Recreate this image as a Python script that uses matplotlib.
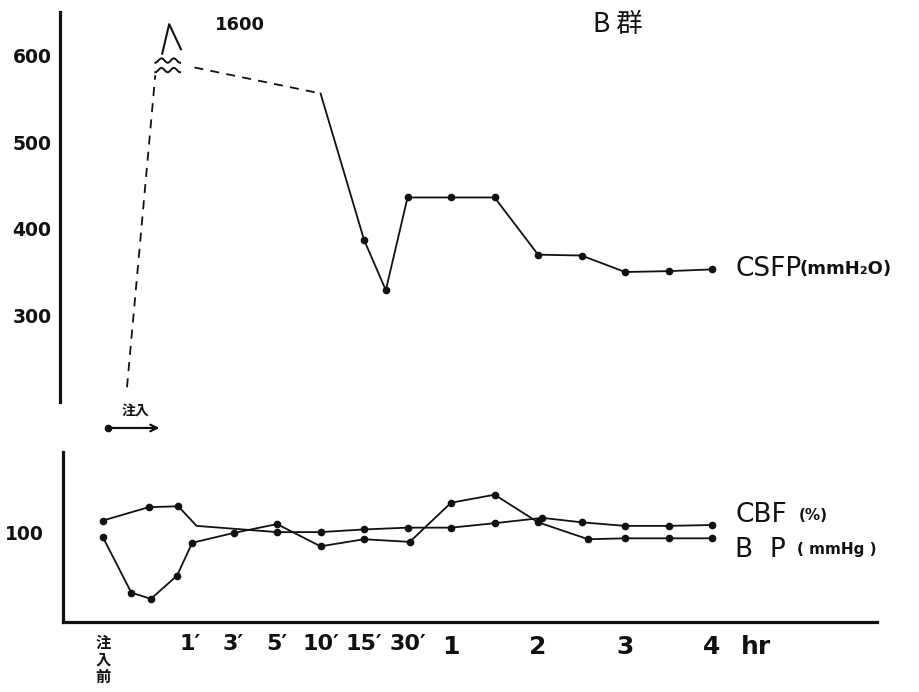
import numpy as np
import matplotlib
matplotlib.use("Agg")
import matplotlib.pyplot as plt

plt.rcParams["font.family"] = ["DejaVu Sans", "Noto Sans CJK JP"]
CJK = ["Noto Sans CJK JP", "DejaVu Sans"]
INK = "#111111"

# time axis: 0 = before injection, then 1', 3', 5', 10', 15', 30', 1..4 hr
tick_pos = [0, 2, 3, 4, 5, 6, 7, 8, 10, 12, 14, 15]
tick_labels = ["注\n入\n前", "1′", "3′", "5′", "10′", "15′", "30′", "1", "2", "3", "4", "hr"]

# CSFP (mmH2O): rise during injection (peak off scale at 1600)
csfp_peak = 1600
csfp_inj_x = [0.55, 1.2]
csfp_inj = [217, 577]
csfp_x = [2.1, 5, 6, 6.5, 7, 8, 9, 10, 11, 12, 13, 14]
csfp = [586, 556, 387, 329, 436, 436, 436, 370, 369, 350, 351, 353]

# CBF (%)
cbf_x = [0, 1.05, 1.73, 2.15, 4, 5, 6, 7, 8, 9, 10.1, 11, 12, 13, 14]
cbf = [114, 129, 130, 108, 101, 101, 104, 106, 106, 111, 117, 112, 108, 108, 109]

# BP (mmHg)
bp_x = [0, 0.65, 1.1, 1.7, 2.05, 3, 4, 5, 6, 7.05, 8, 9, 10, 11.15, 12, 13, 14]
bp = [95, 33, 26, 52, 89, 100, 110, 85, 93, 90, 134, 143, 112, 93, 94, 94, 94]

# injection period
inj_start, inj_end = 0.11, 1.36

fig = plt.figure(figsize=(9.2, 6.92), dpi=100)
ax1 = fig.add_axes([60 / 920, 1 - 402 / 692, 820 / 920, 390 / 692])
ax2 = fig.add_axes([63 / 920, 1 - 622 / 692, 814 / 920, 170 / 692])

for ax in (ax1, ax2):
    for s in ("top", "right"):
        ax.spines[s].set_visible(False)
    ax.spines["left"].set_linewidth(2.3)
    ax.spines["bottom"].set_linewidth(2.3)
    ax.spines["left"].set_color(INK)
    ax.spines["bottom"].set_color(INK)
    ax.tick_params(length=0, colors=INK)
ax1.spines["bottom"].set_visible(False)

# --- upper panel: CSFP ---
ax1.set_xlim(-0.99, 17.86)
ax1.set_ylim(200, 650)
ax1.set_xticks([])
ax1.set_yticks([300, 400, 500, 600])
ax1.set_yticklabels(["300", "400", "500", "600"], fontsize=13.5, fontweight="bold")
ax1.tick_params(axis="y", pad=6)

dash = (0, (5, 4))
ax1.plot(csfp_inj_x, csfp_inj, color=INK, lw=1.3, ls=dash)
ax1.plot(csfp_x[:2], csfp[:2], color=INK, lw=1.3, ls=dash)
ax1.plot(csfp_x[1:], csfp[1:], color=INK, lw=1.3, marker="o", ms=4.5,
         markevery=list(range(1, len(csfp_x) - 1)))

# break symbol over the off-scale peak
bx0 = csfp_inj_x[-1]
t = np.linspace(0, 1, 60)
for off in (6, 17):
    ax1.plot(bx0 + 0.57 * t, csfp_inj[-1] + off + 2.5 * np.sin(2 * np.pi * 2 * t - np.pi / 2),
             color=INK, lw=1.4, clip_on=False)
ax1.plot([bx0 + 0.16, bx0 + 0.32, bx0 + 0.59],
         [csfp_inj[-1] + 25, csfp_inj[-1] + 59, csfp_inj[-1] + 30],
         color=INK, lw=1.5, clip_on=False)
ax1.text(3.15, 635, str(csfp_peak), fontsize=13, fontweight="bold", color=INK,
         ha="center", va="center")

ax1.text(14.53, csfp[-1], "CSFP", fontsize=19, color=INK, ha="left", va="center")
ax1.text(16.02, csfp[-1], "(mmH₂O)", fontsize=13, fontweight="bold", color=INK,
         ha="left", va="center")

# --- lower panel: CBF and BP ---
ax2.set_xlim(-0.92, 17.79)
ax2.set_ylim(0, 191)
ax2.set_yticks([100])
ax2.set_yticklabels(["100"], fontsize=13.5, fontweight="bold")
ax2.tick_params(axis="y", pad=14)
ax2.set_xticks(tick_pos)
ax2.set_xticklabels(tick_labels, fontsize=16, fontweight="bold")
ax2.tick_params(axis="x", pad=9)
lbl0 = ax2.get_xticklabels()[0]
lbl0.set_family(CJK)
lbl0.set_fontsize(11)
lbl0.set_linespacing(1.1)
for lbl in ax2.get_xticklabels()[7:]:
    lbl.set_fontsize(18)

cbf_marks = [i for i in range(len(cbf_x)) if i != 3]
ax2.plot(cbf_x, cbf, color=INK, lw=1.3, marker="o", ms=4.5, markevery=cbf_marks)
ax2.plot(bp_x, bp, color=INK, lw=1.3, marker="o", ms=4.5)

ax2.text(14.53, 120, "CBF", fontsize=19, color=INK, ha="left", va="center")
ax2.text(16.0, 120, "(%)", fontsize=11, fontweight="bold", color=INK, ha="left", va="center")
ax2.text(14.53, 81, "B  P", fontsize=19, color=INK, ha="left", va="center")
ax2.text(15.95, 81, "( mmHg )", fontsize=11, fontweight="bold", color=INK,
         ha="left", va="center")

# injection period marker between the panels
ax2.annotate("", xy=(inj_end, 218), xytext=(inj_start, 218),
             arrowprops=dict(arrowstyle="->", lw=1.6, color=INK, mutation_scale=12),
             annotation_clip=False)
ax2.plot(inj_start, 218, "o", color=INK, ms=4.5, clip_on=False)
ax2.text((inj_start + inj_end) / 2, 236, "注入", family=CJK, fontsize=10,
         fontweight="bold", color=INK, ha="center", va="center")

fig.text(618 / 920, 1 - 25 / 692, "B 群", family=CJK, fontsize=19, color=INK,
         ha="center", va="center")

fig.savefig("out.png", dpi=100, facecolor="white")
